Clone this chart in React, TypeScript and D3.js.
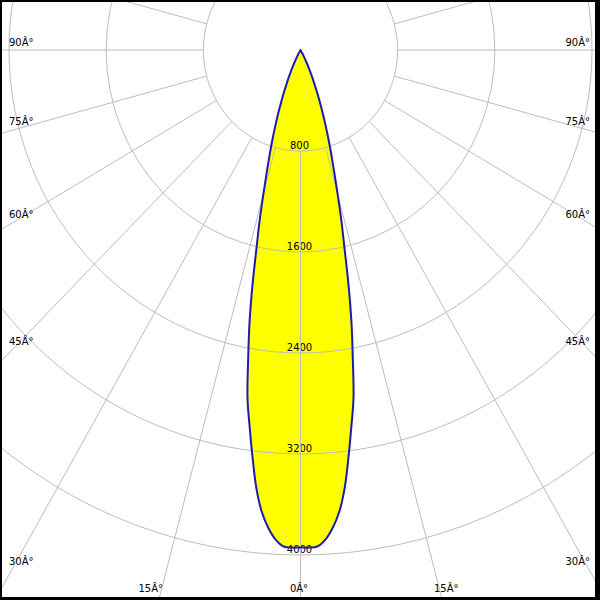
import React from "react";
import * as d3 from "d3";

// Luminous intensity (cd) by gamma angle (deg), symmetric beam
const gammaDeg = [0, 1, 2, 3, 4, 5, 6, 7, 8, 9, 10, 11, 12, 13, 14, 15, 16, 17, 18, 19, 20, 21, 22, 23, 24, 25, 26, 27, 28, 29, 30];
const intensity = [3940, 3942, 3935, 3885, 3795, 3670, 3485, 3245, 3010, 2790, 2480, 2200, 1900, 1610, 1390, 1180, 1010, 870, 750, 640, 540, 450, 370, 300, 240, 185, 140, 100, 62, 30, 0];

const ringValues = [800, 1600, 2400, 3200, 4000];
const rayAngles = [0, 15, 30, 45, 60, 75, 90, 105, 120, 135, 150, 165, 180, 195, 210, 225, 240, 255, 270, 285, 300, 315, 330, 345];
const sideLabelAngles = [90, 75, 60, 45, 30];
const bottomLabelAngles = [-15, 0, 15];

const W = 600;
const H = 600;
const cx = 300.5;
const cy = 50;
const xStretch = 0.962;
const rad = (d: number) => (d * Math.PI) / 180;

export default function App() {
  const r = d3.scaleLinear().domain([0, 4000]).range([0, 505]);
  const pt = (deg: number, v: number): [number, number] => [
    cx + r(v) * xStretch * Math.sin(rad(deg)),
    cy + r(v) * Math.cos(rad(deg)),
  ];

  const pts: [number, number][] = [];
  for (let i = gammaDeg.length - 1; i >= 0; i--) pts.push(pt(-gammaDeg[i], intensity[i]));
  for (let i = 1; i < gammaDeg.length; i++) pts.push(pt(gammaDeg[i], intensity[i]));
  const line = d3.line<[number, number]>().curve(d3.curveCatmullRom.alpha(0.5));
  const d = line(pts) || "";

  const grid = "#bdbdbd";
  const font = { fontFamily: "DejaVu Sans", fontSize: 10 };

  const sideY = (a: number) => {
    const edgeDy = (cx - 2) / xStretch / Math.tan(rad(a));
    return Math.min(cy + edgeDy - (4 + (90 - a) * 0.25), 565);
  };
  const bottomX = (a: number) => cx + (597 - cy) * Math.tan(rad(a)) * xStretch;

  return (
    <div style={{ position: "fixed", left: 0, top: 0 }}>
      <svg width={W} height={H} style={{ display: "block" }}>
        <defs>
          <clipPath id="frame">
            <rect x={2} y={2} width={593} height={595} />
          </clipPath>
        </defs>
        <rect x={0} y={0} width={W} height={H} fill="#000" />
        <rect x={2} y={2} width={593} height={595} fill="#fff" />
        <g clipPath="url(#frame)">
          <path d={d + "Z"} fill="#ffff00" stroke="none" />
          {ringValues.map((v) => (
            <text key={"rl" + v} x={cx - 1} y={cy + r(v) - 2} textAnchor="middle" {...font} fill="#000">
              {v}
            </text>
          ))}
          {ringValues.map((v) => (
            <ellipse key={"c" + v} cx={cx} cy={cy} rx={r(v) * xStretch} ry={r(v)} fill="none" stroke={grid} strokeWidth={1} />
          ))}
          {rayAngles.map((a) => {
            const [x1, y1] = pt(a, 800);
            const [x2, y2] = pt(a, 12000);
            return <line key={"ray" + a} x1={x1} y1={y1} x2={x2} y2={y2} stroke={grid} strokeWidth={1} />;
          })}
          {sideLabelAngles.map((a) => (
            <g key={"sl" + a}>
              <text x={9} y={sideY(a)} textAnchor="start" {...font} fill="#000">{`${a}Â°`}</text>
              <text x={590} y={sideY(a)} textAnchor="end" {...font} fill="#000">{`${a}Â°`}</text>
            </g>
          ))}
          {bottomLabelAngles.map((a) => {
            const x = bottomX(a);
            const anchor = a < 0 ? "end" : a > 0 ? "start" : "middle";
            const xx = a < 0 ? x + 3.5 : a > 0 ? x - 7.5 : x - 1.5;
            return (
              <text key={"bl" + a} x={xx} y={592} textAnchor={anchor} {...font} fill="#000">
                {`${Math.abs(a)}Â°`}
              </text>
            );
          })}
          <path d={d + "Z"} fill="none" stroke="#1c1cb0" strokeWidth={2} strokeLinejoin="round" />
        </g>
      </svg>
    </div>
  );
}
